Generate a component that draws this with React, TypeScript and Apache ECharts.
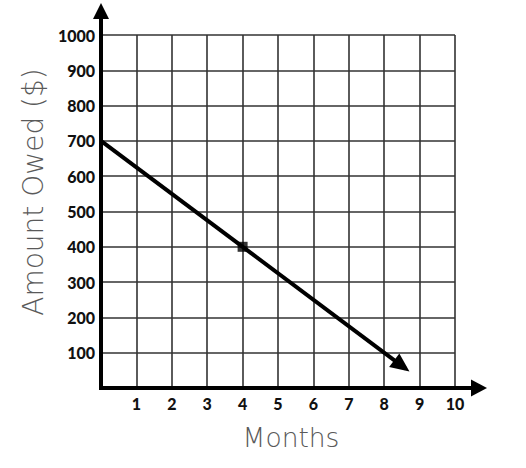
import React, { useEffect, useRef } from "react";
import * as echarts from "echarts";

// Axis ranges / ticks
const xMin = 0;
const xMax = 10;
const xStep = 1;
const yMin = 0;
const yMax = 1000;
const yStep = 100;

// Line (start point and end where the arrowhead sits)
const lineMonths = [0, 8.6];
const lineAmounts = [700, 55];

// Marked point
const pointMonths = [4];
const pointAmounts = [400];

const xTitle = "Months";
const yTitle = "Amount Owed ($)";

export default function App() {
  const ref = useRef<HTMLDivElement>(null);

  useEffect(() => {
    if (!ref.current) return;
    const chart = echarts.init(ref.current, null, { renderer: "svg" });

    const labelStyle = {
      fontFamily: "Lato",
      fontWeight: 900,
      fontSize: 16,
      color: "#111",
    };
    const gridLine = { show: true, lineStyle: { color: "#333", width: 1.6 } };

    chart.setOption({
      animation: false,
      grid: { left: 101, top: 35, width: 354, height: 353 },
      xAxis: {
        type: "value",
        min: xMin,
        max: xMax,
        interval: xStep,
        axisLine: { show: false },
        axisTick: { show: false },
        splitLine: gridLine,
        axisLabel: {
          ...labelStyle,
          margin: 7,
          formatter: (v: number) => (v === 0 ? "" : String(v)),
        },
      },
      yAxis: {
        type: "value",
        min: yMin,
        max: yMax,
        interval: yStep,
        axisLine: { show: false },
        axisTick: { show: false },
        splitLine: gridLine,
        axisLabel: {
          ...labelStyle,
          margin: 6,
          formatter: (v: number) => (v === 0 ? "" : String(v)),
        },
      },
      series: [
        {
          type: "line",
          z: 2,
          symbol: "none",
          lineStyle: { color: "#000", width: 4 },
          data: lineMonths.map((m, i) => [m, lineAmounts[i]]),
        },
        {
          type: "scatter",
          z: 3,
          symbol: "rect",
          symbolSize: 10,
          itemStyle: { color: "#000" },
          data: pointMonths.map((m, i) => [m, pointAmounts[i]]),
        },
      ],
    });

    const o = chart.convertToPixel({ gridIndex: 0 }, [xMin, yMin]) as number[];
    const t = chart.convertToPixel({ gridIndex: 0 }, [xMin, yMax]) as number[];
    const r = chart.convertToPixel({ gridIndex: 0 }, [xMax, yMin]) as number[];
    const a = chart.convertToPixel({ gridIndex: 0 }, [lineMonths[0], lineAmounts[0]]) as number[];
    const b = chart.convertToPixel({ gridIndex: 0 }, [lineMonths[1], lineAmounts[1]]) as number[];
    const dx = b[0] - a[0];
    const dy = b[1] - a[1];
    const len = Math.hypot(dx, dy);
    const ux = dx / len;
    const uy = dy / len;
    const tip = [b[0] + ux * 5, b[1] + uy * 5];
    const base = [tip[0] - ux * 19, tip[1] - uy * 19];
    const hw = 8.5;

    chart.setOption({
      graphic: [
        {
          type: "polygon",
          shape: {
            points: [
              tip,
              [base[0] - uy * hw, base[1] + ux * hw],
              [base[0] + uy * hw, base[1] - ux * hw],
            ],
          },
          style: { fill: "#000" },
          z: 10,
        },
        {
          type: "line",
          shape: { x1: o[0], y1: o[1] + 2, x2: o[0], y2: t[1] - 20 },
          style: { stroke: "#000", lineWidth: 4 },
          z: 10,
        },
        {
          type: "polygon",
          shape: {
            points: [
              [o[0], t[1] - 32],
              [o[0] - 8, t[1] - 16],
              [o[0] + 8, t[1] - 16],
            ],
          },
          style: { fill: "#000" },
          z: 10,
        },
        {
          type: "line",
          shape: { x1: o[0] - 2, y1: o[1], x2: r[0] + 20, y2: o[1] },
          style: { stroke: "#000", lineWidth: 4 },
          z: 10,
        },
        {
          type: "polygon",
          shape: {
            points: [
              [r[0] + 32, o[1]],
              [r[0] + 16, o[1] - 8.5],
              [r[0] + 16, o[1] + 8.5],
            ],
          },
          style: { fill: "#000" },
          z: 10,
        },
        {
          type: "text",
          x: 291,
          y: 437,
          style: {
            text: xTitle,
            fontFamily: "DejaVu Sans",
            fontWeight: 200,
            fontSize: 26.5,
            fill: "#5a5a5a",
            textAlign: "center",
            textVerticalAlign: "middle",
          },
        },
        {
          type: "text",
          x: 33,
          y: 192,
          rotation: Math.PI / 2,
          style: {
            text: yTitle,
            fontFamily: "DejaVu Sans",
            fontWeight: 200,
            fontSize: 28,
            fill: "#5a5a5a",
            textAlign: "center",
            textVerticalAlign: "middle",
          },
        },
      ],
    });

    return () => chart.dispose();
  }, []);

  return (
    <div
      ref={ref}
      style={{ position: "fixed", left: 0, top: 0, width: 526, height: 468, background: "#fff" }}
    />
  );
}
